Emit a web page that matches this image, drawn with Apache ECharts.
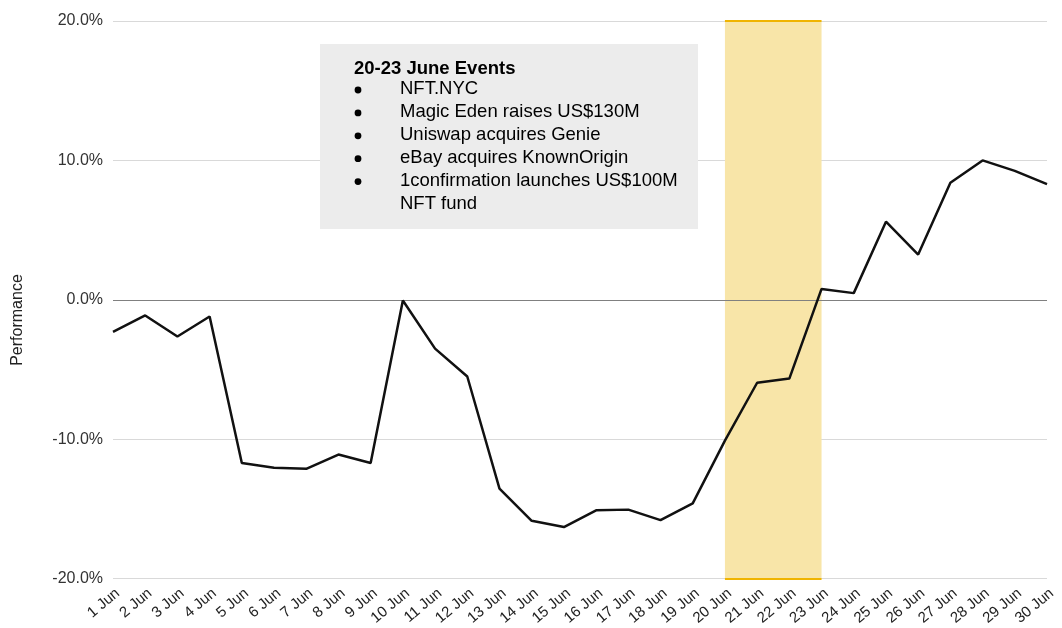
<!DOCTYPE html>
<html>
<head>
<meta charset="utf-8">
<script src="https://cdn.jsdelivr.net/npm/echarts@6/dist/echarts.min.js"></script>
<style>html,body{margin:0;padding:0;background:#fff}#c{width:1062px;height:628px}</style>
</head>
<body>
<div id="c"></div>
<script>
const categories = ['1 Jun','2 Jun','3 Jun','4 Jun','5 Jun','6 Jun','7 Jun','8 Jun','9 Jun','10 Jun',
  '11 Jun','12 Jun','13 Jun','14 Jun','15 Jun','16 Jun','17 Jun','18 Jun','19 Jun','20 Jun',
  '21 Jun','22 Jun','23 Jun','24 Jun','25 Jun','26 Jun','27 Jun','28 Jun','29 Jun','30 Jun'];
const performance = [-2.3,-1.12,-2.63,-1.2,-11.7,-12.05,-12.12,-11.1,-11.7,-0.05,
  -3.5,-5.5,-13.55,-15.85,-16.3,-15.1,-15.05,-15.8,-14.6,-10.1,
  -5.95,-5.65,0.78,0.48,5.6,3.25,8.4,10.0,9.25,8.3];
const eventStart = '20 Jun';
const eventEnd = '23 Jun';
const yTicks = { min: -20, max: 20, interval: 10 };
const axisTitle = 'Performance';
const eventTitle = '20-23 June Events';
const eventLines = ['NFT.NYC','Magic Eden raises US$130M','Uniswap acquires Genie','eBay acquires KnownOrigin','1confirmation launches US$100M'];
const eventCont = 'NFT fund';

const FONT = '"Liberation Sans", Arial, sans-serif';
const chart = echarts.init(document.getElementById('c'));

const lineH = 22.9, firstY = 89;
const graphics = [
  { type: 'rect', left: 320, top: 44, shape: { width: 378, height: 185 }, style: { fill: '#ececec' }, z: 10 },
  { type: 'text', x: 354, y: 69, style: { text: eventTitle, font: 'bold 18.5px ' + FONT, fill: '#000', verticalAlign: 'middle' }, z: 11 },
  { type: 'text', x: 18, y: 320, rotation: Math.PI / 2, style: { text: axisTitle, font: '16px ' + FONT, fill: '#222', align: 'center', verticalAlign: 'middle' }, z: 11 }
];
eventLines.forEach((t, i) => {
  const y = firstY + lineH * i;
  graphics.push({ type: 'circle', shape: { cx: 358, cy: y + 1, r: 3.4 }, style: { fill: '#000' }, z: 11 });
  graphics.push({ type: 'text', x: 400, y: y, style: { text: t, font: '18.5px ' + FONT, fill: '#000', verticalAlign: 'middle' }, z: 11 });
});
graphics.push({ type: 'text', x: 400, y: firstY + lineH * eventLines.length, style: { text: eventCont, font: '18.5px ' + FONT, fill: '#000', verticalAlign: 'middle' }, z: 11 });

chart.setOption({
  animation: false,
  grid: { left: 113, right: 15, top: 21, bottom: 49 },
  xAxis: {
    type: 'category', data: categories, boundaryGap: false,
    axisLine: { show: false }, axisTick: { show: false },
    axisLabel: { rotate: 40, interval: 0, color: '#222', fontFamily: FONT, fontSize: 15, margin: 7, verticalAlign: 'top' },
    splitLine: { show: false }
  },
  yAxis: {
    type: 'value', min: yTicks.min, max: yTicks.max, interval: yTicks.interval,
    axisLine: { show: false }, axisTick: { show: false },
    axisLabel: { color: '#333', fontFamily: FONT, fontSize: 16, margin: 10, formatter: v => v.toFixed(1) + '%' },
    splitLine: { lineStyle: { color: '#d9d9d9', width: 1 } }
  },
  graphic: graphics,
  series: [{
    type: 'line', data: performance, showSymbol: false, symbol: 'none',
    lineStyle: { color: '#111', width: 2.5 },
    z: 5,
    markArea: {
      silent: true,
      itemStyle: { color: '#f8e5a8' },
      data: [[{ xAxis: eventStart, yAxis: yTicks.max }, { xAxis: eventEnd, yAxis: yTicks.min }]],
      z: 1
    },
    markLine: {
      silent: true, symbol: 'none', label: { show: false },
      data: [
        { yAxis: 0, lineStyle: { color: '#808080', width: 1.2, type: 'solid' } },
        [{ coord: [eventStart, yTicks.max], lineStyle: { color: '#f0b400', width: 2, type: 'solid' } }, { coord: [eventEnd, yTicks.max] }],
        [{ coord: [eventStart, yTicks.min], lineStyle: { color: '#f0b400', width: 2, type: 'solid' } }, { coord: [eventEnd, yTicks.min] }]
      ]
    }
  }]
});
</script>
</body>
</html>
